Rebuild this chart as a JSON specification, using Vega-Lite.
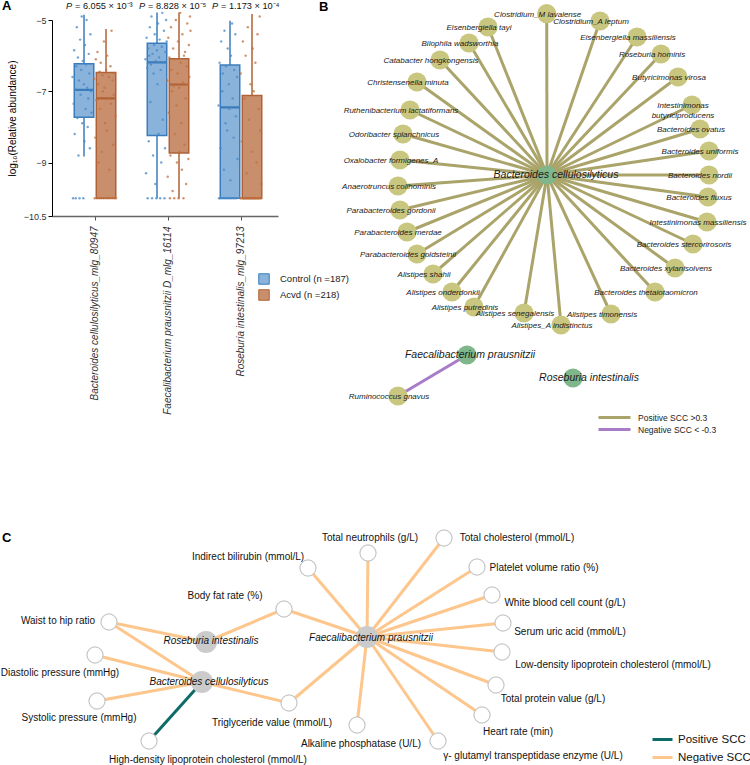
{
  "$schema": "https://vega.github.io/schema/vega-lite/v6.json",
  "padding": 0,
  "config": {
    "font": "Liberation Sans",
    "view": {"stroke": null},
    "title": {"fontSize": 13, "fontWeight": "bold", "anchor": "start", "color": "#000", "frame": "group"},
    "axis": {"labelFont": "Liberation Sans", "titleFont": "Liberation Sans"},
    "legend": {"labelFont": "Liberation Sans"}
  },
  "datasets": {
    "abox": [
      {"s": "B", "g": "Control (n =187)", "lo": -8.83, "q1": -7.73, "med": -6.96, "q3": -6.23, "hi": -4.85},
      {"s": "B", "g": "Acvd (n =218)", "lo": -10, "q1": -10, "med": -7.2, "q3": -6.47, "hi": -5.25},
      {"s": "F", "g": "Control (n =187)", "lo": -10, "q1": -8.24, "med": -6.19, "q3": -5.65, "hi": -4.79},
      {"s": "F", "g": "Acvd (n =218)", "lo": -10, "q1": -8.73, "med": -6.81, "q3": -6.09, "hi": -4.79},
      {"s": "R", "g": "Control (n =187)", "lo": -10, "q1": -10, "med": -7.45, "q3": -6.26, "hi": -5.02},
      {"s": "R", "g": "Acvd (n =218)", "lo": -10, "q1": -10, "med": -10, "q3": -7.12, "hi": -4.83}
    ],
    "ap": [
      {"s": "B", "p": "= 6.055 × 10⁻³"},
      {"s": "F", "p": "= 8.828 × 10⁻⁵"},
      {"s": "R", "p": "= 1.173 × 10⁻⁴"}
    ],
    "apts": [
      {"s":"B","g":"C","i":1,"v":-6.6},{"s":"B","g":"C","i":2,"v":-10},{"s":"B","g":"C","i":3,"v":-7.35},{"s":"B","g":"C","i":4,"v":-5.85},{"s":"B","g":"C","i":5,"v":-8.2},{"s":"B","g":"C","i":6,"v":-6.95},{"s":"B","g":"C","i":7,"v":-10},{"s":"B","g":"C","i":8,"v":-6.3},{"s":"B","g":"C","i":9,"v":-5.2},{"s":"B","g":"C","i":10,"v":-7.75},{"s":"B","g":"C","i":11,"v":-6.05},{"s":"B","g":"C","i":12,"v":-8.8},{"s":"B","g":"C","i":13,"v":-6.7},{"s":"B","g":"C","i":14,"v":-10},{"s":"B","g":"C","i":15,"v":-5.55},{"s":"B","g":"C","i":16,"v":-7.1},{"s":"B","g":"C","i":17,"v":-6.4},{"s":"B","g":"C","i":18,"v":-4.9},{"s":"B","g":"C","i":19,"v":-7.9},{"s":"B","g":"C","i":20,"v":-6.15},{"s":"B","g":"C","i":21,"v":-10},{"s":"B","g":"C","i":22,"v":-6.8},{"s":"B","g":"C","i":23,"v":-8.4},{"s":"B","g":"C","i":24,"v":-5.7},{"s":"B","g":"C","i":25,"v":-7.5},{"s":"B","g":"C","i":26,"v":-6.25},{"s":"B","g":"C","i":27,"v":-5.0},{"s":"B","g":"C","i":28,"v":-6.9},{"s":"B","g":"C","i":29,"v":-8.0},{"s":"B","g":"C","i":30,"v":-7.2},{"s":"B","g":"C","i":31,"v":-5.95},{"s":"B","g":"C","i":32,"v":-6.5},{"s":"B","g":"C","i":33,"v":-8.6},{"s":"B","g":"C","i":34,"v":-5.4},{"s":"B","g":"C","i":35,"v":-7.0},{"s":"B","g":"C","i":36,"v":-7.6},
      {"s":"B","g":"A","i":101,"v":-6.65},{"s":"B","g":"A","i":102,"v":-10},{"s":"B","g":"A","i":103,"v":-8.3},{"s":"B","g":"A","i":104,"v":-6.1},{"s":"B","g":"A","i":105,"v":-7.25},{"s":"B","g":"A","i":106,"v":-10},{"s":"B","g":"A","i":107,"v":-5.9},{"s":"B","g":"A","i":108,"v":-6.8},{"s":"B","g":"A","i":109,"v":-9.0},{"s":"B","g":"A","i":110,"v":-10},{"s":"B","g":"A","i":111,"v":-6.45},{"s":"B","g":"A","i":112,"v":-7.5},{"s":"B","g":"A","i":113,"v":-6.2},{"s":"B","g":"A","i":114,"v":-10},{"s":"B","g":"A","i":115,"v":-8.7},{"s":"B","g":"A","i":116,"v":-6.55},{"s":"B","g":"A","i":117,"v":-7.0},{"s":"B","g":"A","i":118,"v":-10},{"s":"B","g":"A","i":119,"v":-5.6},{"s":"B","g":"A","i":120,"v":-6.9},{"s":"B","g":"A","i":121,"v":-7.9},{"s":"B","g":"A","i":122,"v":-10},{"s":"B","g":"A","i":123,"v":-6.4},{"s":"B","g":"A","i":124,"v":-8.1},{"s":"B","g":"A","i":125,"v":-6.0},{"s":"B","g":"A","i":126,"v":-10},{"s":"B","g":"A","i":127,"v":-7.2},{"s":"B","g":"A","i":128,"v":-6.6},{"s":"B","g":"A","i":129,"v":-9.2},{"s":"B","g":"A","i":130,"v":-10},{"s":"B","g":"A","i":131,"v":-6.3},{"s":"B","g":"A","i":132,"v":-7.35},{"s":"B","g":"A","i":133,"v":-5.3},{"s":"B","g":"A","i":134,"v":-10},{"s":"B","g":"A","i":135,"v":-6.7},{"s":"B","g":"A","i":136,"v":-8.5},{"s":"B","g":"A","i":137,"v":-7.1},{"s":"B","g":"A","i":138,"v":-10},{"s":"B","g":"A","i":139,"v":-6.5},{"s":"B","g":"A","i":140,"v":-7.7},{"s":"B","g":"A","i":141,"v":-10},
      {"s":"F","g":"C","i":1,"v":-6.1},{"s":"F","g":"C","i":2,"v":-9.3},{"s":"F","g":"C","i":3,"v":-5.5},{"s":"F","g":"C","i":4,"v":-6.35},{"s":"F","g":"C","i":5,"v":-10},{"s":"F","g":"C","i":6,"v":-5.8},{"s":"F","g":"C","i":7,"v":-8.4},{"s":"F","g":"C","i":8,"v":-6.0},{"s":"F","g":"C","i":9,"v":-5.2},{"s":"F","g":"C","i":10,"v":-7.3},{"s":"F","g":"C","i":11,"v":-6.25},{"s":"F","g":"C","i":12,"v":-4.9},{"s":"F","g":"C","i":13,"v":-10},{"s":"F","g":"C","i":14,"v":-5.95},{"s":"F","g":"C","i":15,"v":-8.8},{"s":"F","g":"C","i":16,"v":-6.5},{"s":"F","g":"C","i":17,"v":-5.7},{"s":"F","g":"C","i":18,"v":-5.4},{"s":"F","g":"C","i":19,"v":-9.6},{"s":"F","g":"C","i":20,"v":-6.15},{"s":"F","g":"C","i":21,"v":-10},{"s":"F","g":"C","i":22,"v":-5.85},{"s":"F","g":"C","i":23,"v":-6.8},{"s":"F","g":"C","i":24,"v":-5.1},{"s":"F","g":"C","i":25,"v":-8.2},{"s":"F","g":"C","i":26,"v":-6.05},{"s":"F","g":"C","i":27,"v":-5.55},{"s":"F","g":"C","i":28,"v":-10},{"s":"F","g":"C","i":29,"v":-6.4},{"s":"F","g":"C","i":30,"v":-9.0},{"s":"F","g":"C","i":31,"v":-5.75},{"s":"F","g":"C","i":32,"v":-4.8},{"s":"F","g":"C","i":33,"v":-7.8},{"s":"F","g":"C","i":34,"v":-6.2},{"s":"F","g":"C","i":35,"v":-5.3},{"s":"F","g":"C","i":36,"v":-10},{"s":"F","g":"C","i":37,"v":-8.6},{"s":"F","g":"C","i":38,"v":-5.9},{"s":"F","g":"C","i":39,"v":-5.0},{"s":"F","g":"C","i":40,"v":-5.6},
      {"s":"F","g":"A","i":101,"v":-6.7},{"s":"F","g":"A","i":102,"v":-9.4},{"s":"F","g":"A","i":103,"v":-5.5},{"s":"F","g":"A","i":104,"v":-7.6},{"s":"F","g":"A","i":105,"v":-6.05},{"s":"F","g":"A","i":106,"v":-10},{"s":"F","g":"A","i":107,"v":-8.8},{"s":"F","g":"A","i":108,"v":-5.2},{"s":"F","g":"A","i":109,"v":-6.4},{"s":"F","g":"A","i":110,"v":-7.0},{"s":"F","g":"A","i":111,"v":-9.8},{"s":"F","g":"A","i":112,"v":-5.8},{"s":"F","g":"A","i":113,"v":-6.85},{"s":"F","g":"A","i":114,"v":-10},{"s":"F","g":"A","i":115,"v":-8.2},{"s":"F","g":"A","i":116,"v":-6.1},{"s":"F","g":"A","i":117,"v":-5.0},{"s":"F","g":"A","i":118,"v":-7.4},{"s":"F","g":"A","i":119,"v":-9.0},{"s":"F","g":"A","i":120,"v":-6.5},{"s":"F","g":"A","i":121,"v":-5.6},{"s":"F","g":"A","i":122,"v":-10},{"s":"F","g":"A","i":123,"v":-6.9},{"s":"F","g":"A","i":124,"v":-8.7},{"s":"F","g":"A","i":125,"v":-4.8},{"s":"F","g":"A","i":126,"v":-6.2},{"s":"F","g":"A","i":127,"v":-7.9},{"s":"F","g":"A","i":128,"v":-9.2},{"s":"F","g":"A","i":129,"v":-5.4},{"s":"F","g":"A","i":130,"v":-6.75},{"s":"F","g":"A","i":131,"v":-10},{"s":"F","g":"A","i":132,"v":-6.0},{"s":"F","g":"A","i":133,"v":-8.5},{"s":"F","g":"A","i":134,"v":-5.9},{"s":"F","g":"A","i":135,"v":-7.2},{"s":"F","g":"A","i":136,"v":-9.6},{"s":"F","g":"A","i":137,"v":-6.3},{"s":"F","g":"A","i":138,"v":-5.1},{"s":"F","g":"A","i":139,"v":-6.8},{"s":"F","g":"A","i":140,"v":-8.9},{"s":"F","g":"A","i":141,"v":-5.7},{"s":"F","g":"A","i":142,"v":-6.6},{"s":"F","g":"A","i":143,"v":-4.9},{"s":"F","g":"A","i":144,"v":-5.3},
      {"s":"R","g":"C","i":1,"v":-7.4},{"s":"R","g":"C","i":2,"v":-10},{"s":"R","g":"C","i":3,"v":-6.2},{"s":"R","g":"C","i":4,"v":-10},{"s":"R","g":"C","i":5,"v":-8.6},{"s":"R","g":"C","i":6,"v":-5.6},{"s":"R","g":"C","i":7,"v":-10},{"s":"R","g":"C","i":8,"v":-7.0},{"s":"R","g":"C","i":9,"v":-6.5},{"s":"R","g":"C","i":10,"v":-10},{"s":"R","g":"C","i":11,"v":-9.2},{"s":"R","g":"C","i":12,"v":-5.3},{"s":"R","g":"C","i":13,"v":-10},{"s":"R","g":"C","i":14,"v":-7.9},{"s":"R","g":"C","i":15,"v":-6.3},{"s":"R","g":"C","i":16,"v":-10},{"s":"R","g":"C","i":17,"v":-8.1},{"s":"R","g":"C","i":18,"v":-5.8},{"s":"R","g":"C","i":19,"v":-10},{"s":"R","g":"C","i":20,"v":-6.8},{"s":"R","g":"C","i":21,"v":-7.5},{"s":"R","g":"C","i":22,"v":-10},{"s":"R","g":"C","i":23,"v":-9.5},{"s":"R","g":"C","i":24,"v":-6.0},{"s":"R","g":"C","i":25,"v":-10},{"s":"R","g":"C","i":26,"v":-5.1},{"s":"R","g":"C","i":27,"v":-7.2},{"s":"R","g":"C","i":28,"v":-10},{"s":"R","g":"C","i":29,"v":-8.3},{"s":"R","g":"C","i":30,"v":-6.4},{"s":"R","g":"C","i":31,"v":-10},{"s":"R","g":"C","i":32,"v":-5.4},{"s":"R","g":"C","i":33,"v":-7.7},{"s":"R","g":"C","i":34,"v":-10},{"s":"R","g":"C","i":35,"v":-6.6},{"s":"R","g":"C","i":36,"v":-8.9},
      {"s":"R","g":"A","i":101,"v":-10},{"s":"R","g":"A","i":102,"v":-6.5},{"s":"R","g":"A","i":103,"v":-10},{"s":"R","g":"A","i":104,"v":-8.4},{"s":"R","g":"A","i":105,"v":-10},{"s":"R","g":"A","i":106,"v":-5.6},{"s":"R","g":"A","i":107,"v":-10},{"s":"R","g":"A","i":108,"v":-10},{"s":"R","g":"A","i":109,"v":-7.2},{"s":"R","g":"A","i":110,"v":-10},{"s":"R","g":"A","i":111,"v":-6.0},{"s":"R","g":"A","i":112,"v":-10},{"s":"R","g":"A","i":113,"v":-9.3},{"s":"R","g":"A","i":114,"v":-10},{"s":"R","g":"A","i":115,"v":-5.2},{"s":"R","g":"A","i":116,"v":-10},{"s":"R","g":"A","i":117,"v":-7.8},{"s":"R","g":"A","i":118,"v":-10},{"s":"R","g":"A","i":119,"v":-10},{"s":"R","g":"A","i":120,"v":-6.8},{"s":"R","g":"A","i":121,"v":-10},{"s":"R","g":"A","i":122,"v":-8.7},{"s":"R","g":"A","i":123,"v":-10},{"s":"R","g":"A","i":124,"v":-5.8},{"s":"R","g":"A","i":125,"v":-10},{"s":"R","g":"A","i":126,"v":-7.0},{"s":"R","g":"A","i":127,"v":-10},{"s":"R","g":"A","i":128,"v":-10},{"s":"R","g":"A","i":129,"v":-6.2},{"s":"R","g":"A","i":130,"v":-10},{"s":"R","g":"A","i":131,"v":-9.0},{"s":"R","g":"A","i":132,"v":-10},{"s":"R","g":"A","i":133,"v":-5.4},{"s":"R","g":"A","i":134,"v":-10},{"s":"R","g":"A","i":135,"v":-7.5},{"s":"R","g":"A","i":136,"v":-10},{"s":"R","g":"A","i":137,"v":-4.9},{"s":"R","g":"A","i":138,"v":-8.1},{"s":"R","g":"A","i":139,"v":-10},{"s":"R","g":"A","i":140,"v":-9.6}
    ],
    "bnodes": [
      {"n": "Bacteroides cellulosilyticus", "x": 547, "y": 178, "t": "hub", "lx": 556, "ly": 178},
      {"n": "Faecalibacterium prausnitzii", "x": 467, "y": 358, "t": "hub", "lx": 470, "ly": 358},
      {"n": "Roseburia intestinalis", "x": 573, "y": 381, "t": "hub", "lx": 589, "ly": 381},
      {"n": "Clostridium_M lavalense", "x": 546.7, "y": 16.7, "t": "leaf"},
      {"n": "Clostridium_A leptum", "x": 600, "y": 24, "t": "leaf"},
      {"n": "Eisenbergiella tayi", "x": 488, "y": 30, "t": "leaf"},
      {"n": "Eisenbergiella massiliensis", "x": 637, "y": 40, "t": "leaf"},
      {"n": "Bilophila wadsworthia", "x": 469, "y": 46, "t": "leaf"},
      {"n": "Roseburia hominis", "x": 661, "y": 57, "t": "leaf"},
      {"n": "Catabacter hongkongensis", "x": 440, "y": 63, "t": "leaf"},
      {"n": "Butyricimonas virosa", "x": 678, "y": 80, "t": "leaf"},
      {"n": "Christensenella minuta", "x": 417, "y": 85, "t": "leaf"},
      {"n": "Intestinimonas\nbutyriciproducens", "x": 692, "y": 108, "t": "leaf"},
      {"n": "Ruthenibacterium lactatiformans", "x": 410, "y": 113, "t": "leaf"},
      {"n": "Bacteroides ovatus", "x": 700, "y": 132, "t": "leaf"},
      {"n": "Odoribacter splanchnicus", "x": 403, "y": 137, "t": "leaf"},
      {"n": "Bacteroides uniformis", "x": 709, "y": 154, "t": "leaf"},
      {"n": "Oxalobacter formigenes_A", "x": 400, "y": 163, "t": "leaf"},
      {"n": "Bacteroides nordii", "x": 709, "y": 178, "t": "leaf"},
      {"n": "Anaerotruncus colihominis", "x": 398, "y": 189, "t": "leaf"},
      {"n": "Bacteroides fluxus", "x": 708, "y": 200, "t": "leaf"},
      {"n": "Parabacteroides gordonii", "x": 400, "y": 213, "t": "leaf"},
      {"n": "Intestinimonas massiliensis", "x": 707, "y": 225, "t": "leaf"},
      {"n": "Parabacteroides merdae", "x": 407, "y": 235, "t": "leaf"},
      {"n": "Bacteroides stercorirosoris", "x": 693, "y": 247, "t": "leaf"},
      {"n": "Parabacteroides goldsteinii", "x": 417, "y": 257, "t": "leaf"},
      {"n": "Bacteroides xylanisolvens", "x": 675, "y": 271, "t": "leaf"},
      {"n": "Alistipes shahii", "x": 433, "y": 277, "t": "leaf"},
      {"n": "Alistipes onderdonkii", "x": 452, "y": 295, "t": "leaf"},
      {"n": "Bacteroides thetaiotaomicron", "x": 655, "y": 295, "t": "leaf"},
      {"n": "Alistipes putredinis", "x": 474, "y": 310, "t": "leaf"},
      {"n": "Alistipes senegalensis", "x": 524, "y": 316, "t": "leaf"},
      {"n": "Alistipes timonensis", "x": 611, "y": 317, "t": "leaf"},
      {"n": "Alistipes_A indistinctus", "x": 561, "y": 328, "t": "leaf"},
      {"n": "Ruminococcus gnavus", "x": 398, "y": 399, "t": "leaf"}
    ],
    "bedges": [
      {"s": "Bacteroides cellulosilyticus", "t": "Clostridium_M lavalense", "sign": "Positive SCC >0.3"},
      {"s": "Bacteroides cellulosilyticus", "t": "Clostridium_A leptum", "sign": "Positive SCC >0.3"},
      {"s": "Bacteroides cellulosilyticus", "t": "Eisenbergiella tayi", "sign": "Positive SCC >0.3"},
      {"s": "Bacteroides cellulosilyticus", "t": "Eisenbergiella massiliensis", "sign": "Positive SCC >0.3"},
      {"s": "Bacteroides cellulosilyticus", "t": "Bilophila wadsworthia", "sign": "Positive SCC >0.3"},
      {"s": "Bacteroides cellulosilyticus", "t": "Roseburia hominis", "sign": "Positive SCC >0.3"},
      {"s": "Bacteroides cellulosilyticus", "t": "Catabacter hongkongensis", "sign": "Positive SCC >0.3"},
      {"s": "Bacteroides cellulosilyticus", "t": "Butyricimonas virosa", "sign": "Positive SCC >0.3"},
      {"s": "Bacteroides cellulosilyticus", "t": "Christensenella minuta", "sign": "Positive SCC >0.3"},
      {"s": "Bacteroides cellulosilyticus", "t": "Intestinimonas\nbutyriciproducens", "sign": "Positive SCC >0.3"},
      {"s": "Bacteroides cellulosilyticus", "t": "Ruthenibacterium lactatiformans", "sign": "Positive SCC >0.3"},
      {"s": "Bacteroides cellulosilyticus", "t": "Bacteroides ovatus", "sign": "Positive SCC >0.3"},
      {"s": "Bacteroides cellulosilyticus", "t": "Odoribacter splanchnicus", "sign": "Positive SCC >0.3"},
      {"s": "Bacteroides cellulosilyticus", "t": "Bacteroides uniformis", "sign": "Positive SCC >0.3"},
      {"s": "Bacteroides cellulosilyticus", "t": "Oxalobacter formigenes_A", "sign": "Positive SCC >0.3"},
      {"s": "Bacteroides cellulosilyticus", "t": "Bacteroides nordii", "sign": "Positive SCC >0.3"},
      {"s": "Bacteroides cellulosilyticus", "t": "Anaerotruncus colihominis", "sign": "Positive SCC >0.3"},
      {"s": "Bacteroides cellulosilyticus", "t": "Bacteroides fluxus", "sign": "Positive SCC >0.3"},
      {"s": "Bacteroides cellulosilyticus", "t": "Parabacteroides gordonii", "sign": "Positive SCC >0.3"},
      {"s": "Bacteroides cellulosilyticus", "t": "Intestinimonas massiliensis", "sign": "Positive SCC >0.3"},
      {"s": "Bacteroides cellulosilyticus", "t": "Parabacteroides merdae", "sign": "Positive SCC >0.3"},
      {"s": "Bacteroides cellulosilyticus", "t": "Bacteroides stercorirosoris", "sign": "Positive SCC >0.3"},
      {"s": "Bacteroides cellulosilyticus", "t": "Parabacteroides goldsteinii", "sign": "Positive SCC >0.3"},
      {"s": "Bacteroides cellulosilyticus", "t": "Bacteroides xylanisolvens", "sign": "Positive SCC >0.3"},
      {"s": "Bacteroides cellulosilyticus", "t": "Alistipes shahii", "sign": "Positive SCC >0.3"},
      {"s": "Bacteroides cellulosilyticus", "t": "Alistipes onderdonkii", "sign": "Positive SCC >0.3"},
      {"s": "Bacteroides cellulosilyticus", "t": "Bacteroides thetaiotaomicron", "sign": "Positive SCC >0.3"},
      {"s": "Bacteroides cellulosilyticus", "t": "Alistipes putredinis", "sign": "Positive SCC >0.3"},
      {"s": "Bacteroides cellulosilyticus", "t": "Alistipes senegalensis", "sign": "Positive SCC >0.3"},
      {"s": "Bacteroides cellulosilyticus", "t": "Alistipes timonensis", "sign": "Positive SCC >0.3"},
      {"s": "Bacteroides cellulosilyticus", "t": "Alistipes_A indistinctus", "sign": "Positive SCC >0.3"},
      {"s": "Faecalibacterium prausnitzii", "t": "Ruminococcus gnavus", "sign": "Negative SCC < -0.3"}
    ],
    "cnodes": [
      {"n": "Roseburia intestinalis", "x": 206, "y": 642, "t": "hub", "lx": 211, "ly": 641},
      {"n": "Bacteroides cellulosilyticus", "x": 202, "y": 682, "t": "hub", "lx": 209, "ly": 682},
      {"n": "Faecalibacterium prausnitzii", "x": 367, "y": 637, "t": "hub", "lx": 371, "ly": 638},
      {"n": "Indirect bilirubin (mmol/L)", "x": 308, "y": 568, "t": "var", "lx": 248, "ly": 557},
      {"n": "Total neutrophils (g/L)", "x": 368, "y": 553, "t": "var", "lx": 370, "ly": 538},
      {"n": "Total cholesterol (mmol/L)", "x": 444, "y": 538, "t": "var", "lx": 517, "ly": 538},
      {"n": "Platelet volume ratio (%)", "x": 477, "y": 567, "t": "var", "lx": 544, "ly": 568},
      {"n": "White blood cell count (g/L)", "x": 492, "y": 595, "t": "var", "lx": 565, "ly": 603},
      {"n": "Serum uric acid (mmol/L)", "x": 503, "y": 623, "t": "var", "lx": 570, "ly": 632},
      {"n": "Low-density lipoprotein cholesterol (mmol/L)", "x": 502, "y": 652, "t": "var", "lx": 613, "ly": 665},
      {"n": "Total protein value (g/L)", "x": 496, "y": 685, "t": "var", "lx": 553, "ly": 699},
      {"n": "Heart rate (min)", "x": 482, "y": 715, "t": "var", "lx": 518, "ly": 732},
      {"n": "γ- glutamyl transpeptidase enzyme (U/L)", "x": 438, "y": 741, "t": "var", "lx": 533, "ly": 756},
      {"n": "Alkaline phosphatase (U/L)", "x": 357, "y": 725, "t": "var", "lx": 361, "ly": 744},
      {"n": "Triglyceride value (mmol/L)", "x": 289, "y": 703, "t": "var", "lx": 272, "ly": 723},
      {"n": "High-density lipoprotein cholesterol (mmol/L)", "x": 149, "y": 741, "t": "var", "lx": 208, "ly": 760},
      {"n": "Systolic pressure (mmHg)", "x": 97, "y": 701, "t": "var", "lx": 79, "ly": 718},
      {"n": "Diastolic pressure (mmHg)", "x": 95, "y": 655, "t": "var", "lx": 60, "ly": 673},
      {"n": "Waist to hip ratio", "x": 109, "y": 622, "t": "var", "lx": 58, "ly": 621},
      {"n": "Body fat rate (%)", "x": 284, "y": 609, "t": "var", "lx": 225, "ly": 596}
    ],
    "cedges": [
      {"s": "Roseburia intestinalis", "t": "Waist to hip ratio", "sign": "Negative SCC"},
      {"s": "Roseburia intestinalis", "t": "Body fat rate (%)", "sign": "Negative SCC"},
      {"s": "Bacteroides cellulosilyticus", "t": "Waist to hip ratio", "sign": "Negative SCC"},
      {"s": "Bacteroides cellulosilyticus", "t": "Diastolic pressure (mmHg)", "sign": "Negative SCC"},
      {"s": "Bacteroides cellulosilyticus", "t": "Systolic pressure (mmHg)", "sign": "Negative SCC"},
      {"s": "Bacteroides cellulosilyticus", "t": "Triglyceride value (mmol/L)", "sign": "Negative SCC"},
      {"s": "Bacteroides cellulosilyticus", "t": "High-density lipoprotein cholesterol (mmol/L)", "sign": "Positive SCC"},
      {"s": "Faecalibacterium prausnitzii", "t": "Indirect bilirubin (mmol/L)", "sign": "Negative SCC"},
      {"s": "Faecalibacterium prausnitzii", "t": "Total neutrophils (g/L)", "sign": "Negative SCC"},
      {"s": "Faecalibacterium prausnitzii", "t": "Total cholesterol (mmol/L)", "sign": "Negative SCC"},
      {"s": "Faecalibacterium prausnitzii", "t": "Platelet volume ratio (%)", "sign": "Negative SCC"},
      {"s": "Faecalibacterium prausnitzii", "t": "White blood cell count (g/L)", "sign": "Negative SCC"},
      {"s": "Faecalibacterium prausnitzii", "t": "Serum uric acid (mmol/L)", "sign": "Negative SCC"},
      {"s": "Faecalibacterium prausnitzii", "t": "Low-density lipoprotein cholesterol (mmol/L)", "sign": "Negative SCC"},
      {"s": "Faecalibacterium prausnitzii", "t": "Total protein value (g/L)", "sign": "Negative SCC"},
      {"s": "Faecalibacterium prausnitzii", "t": "Heart rate (min)", "sign": "Negative SCC"},
      {"s": "Faecalibacterium prausnitzii", "t": "γ- glutamyl transpeptidase enzyme (U/L)", "sign": "Negative SCC"},
      {"s": "Faecalibacterium prausnitzii", "t": "Alkaline phosphatase (U/L)", "sign": "Negative SCC"},
      {"s": "Faecalibacterium prausnitzii", "t": "Triglyceride value (mmol/L)", "sign": "Negative SCC"},
      {"s": "Faecalibacterium prausnitzii", "t": "Body fat rate (%)", "sign": "Negative SCC"}
    ]
  },
  "vconcat": [
    {
      "hconcat": [
        {
          "width": 226,
          "height": 196,
          "title": {"text": "A", "dx": -50, "offset": -11},
          "encoding": {
            "x": {
              "field": "s", "type": "nominal", "title": null,
              "scale": {"domain": ["B", "F", "R"], "paddingInner": 0, "paddingOuter": 0.048, "align": 0.93},
              "axis": {
                "labelExpr": "datum.value == 'B' ? 'Bacteroides cellulosilyticus_mlg_80947' : datum.value == 'F' ? 'Faecalibacterium prausnitzii D_mlg_16114' : 'Roseburia intestinalis_mlg_97213'",
                "labelAngle": 270, "labelFontStyle": "italic", "labelFontSize": 10, "labelColor": "#333",
                "labelLimit": 400, "labelPadding": 6, "tickSize": 4, "tickColor": "#555",
                "domainColor": "#666", "domainWidth": 1.5
              }
            }
          },
          "layer": [
            {
              "data": {"name": "abox"},
              "mark": {"type": "rule", "strokeWidth": 1.5},
              "encoding": {
                "y": {
                  "field": "lo", "type": "quantitative", "title": "log₁₀(Relative abundance)",
                  "scale": {"domain": [-10.5, -5], "nice": false, "zero": false},
                  "axis": {"values": [-5, -6, -7, -8, -9, -10, -10.5], "format": ".1~f", "labelOverlap": false, "grid": false, "labelFontSize": 9, "labelColor": "#333", "tickSize": 4, "tickColor": "#000", "domainColor": "#000", "titleFontSize": 10, "titleFontWeight": "normal", "titleColor": "#000", "titlePadding": 6}
                },
                "y2": {"field": "hi"},
                "xOffset": {"field": "g", "type": "nominal", "scale": {"domain": ["Control (n =187)", "Acvd (n =218)"], "paddingInner": 0.114, "paddingOuter": 0.716}},
                "stroke": {"field": "g", "type": "nominal", "scale": {"domain": ["Control (n =187)", "Acvd (n =218)"], "range": ["#3b7cbc", "#b06236"]},
                  "legend": {"orient": "none", "legendX": 206, "legendY": 253, "title": null, "symbolType": "square", "symbolSize": 110, "symbolStrokeWidth": 1, "labelFontSize": 9.5, "labelColor": "#222", "labelOffset": 10, "rowPadding": 0}}
              }
            },
            {
              "data": {"name": "abox"},
              "mark": {"type": "bar", "strokeWidth": 1.5},
              "encoding": {
                "y": {"field": "q1", "type": "quantitative"},
                "y2": {"field": "q3"},
                "xOffset": {"field": "g", "type": "nominal", "scale": {"domain": ["Control (n =187)", "Acvd (n =218)"], "paddingInner": 0.114, "paddingOuter": 0.716}},
                "fill": {"field": "g", "type": "nominal", "scale": {"domain": ["Control (n =187)", "Acvd (n =218)"], "range": ["#89b3db", "#c98f6d"]},
                  "legend": {"orient": "none", "legendX": 206, "legendY": 253, "title": null, "symbolType": "square", "symbolSize": 110, "symbolStrokeWidth": 1, "labelFontSize": 9.5, "labelColor": "#222", "labelOffset": 10, "rowPadding": 0}},
                "stroke": {"field": "g", "type": "nominal"}
              }
            },
            {
              "data": {"name": "abox"},
              "mark": {"type": "bar", "strokeWidth": 2.2, "fillOpacity": 0},
              "encoding": {
                "y": {"field": "med", "type": "quantitative"},
                "y2": {"field": "med"},
                "xOffset": {"field": "g", "type": "nominal", "scale": {"domain": ["Control (n =187)", "Acvd (n =218)"], "paddingInner": 0.114, "paddingOuter": 0.716}},
                "stroke": {"field": "g", "type": "nominal"}
              }
            },
            {
              "data": {"name": "apts"},
              "mark": {"type": "circle", "size": 6, "opacity": 0.75},
              "encoding": {
                "y": {"field": "v", "type": "quantitative"},
                "xOffset": {"field": "i", "type": "ordinal", "scale": {"paddingInner": 0, "paddingOuter": 0, "range": [14, 59]}},
                "color": {"field": "g", "type": "nominal", "scale": {"domain": ["C", "A"], "range": ["#4a88c7", "#c0703f"]}, "legend": null}
              }
            },
            {
              "data": {"name": "ap"},
              "mark": {"type": "text", "fontSize": 9.2, "fontStyle": "italic", "color": "#111", "baseline": "middle", "align": "left", "dx": -29},
              "encoding": {
                "y": {"datum": -4.62},
                "text": {"value": "P"}
              }
            },
            {
              "data": {"name": "ap"},
              "mark": {"type": "text", "fontSize": 9.2, "color": "#111", "baseline": "middle", "align": "left", "dx": -20},
              "encoding": {
                "y": {"datum": -4.62},
                "text": {"field": "p"}
              }
            }
          ],
          "resolve": {"scale": {"xOffset": "independent"}}
        },
        {
          "width": 460,
          "height": 417,
          "title": {"text": "B", "dx": 29, "offset": -10},
          "layer": [
            {
              "data": {"name": "bedges"},
              "transform": [
                {"lookup": "s", "from": {"data": {"name": "bnodes"}, "key": "n", "fields": ["x", "y"]}, "as": ["sx", "sy"]},
                {"lookup": "t", "from": {"data": {"name": "bnodes"}, "key": "n", "fields": ["x", "y"]}, "as": ["tx", "ty"]}
              ],
              "mark": {"type": "rule", "strokeWidth": 3},
              "encoding": {
                "x": {"field": "sx", "type": "quantitative", "scale": {"domain": [290, 750], "nice": false, "zero": false}, "axis": null},
                "y": {"field": "sy", "type": "quantitative", "scale": {"domain": [23, 440], "nice": false, "zero": false, "reverse": true}, "axis": null},
                "x2": {"field": "tx"},
                "y2": {"field": "ty"},
                "stroke": {"field": "sign", "type": "nominal", "scale": {"domain": ["Positive SCC >0.3", "Negative SCC < -0.3"], "range": ["#aaa46a", "#a87cc8"]},
                  "legend": {"orient": "none", "legendX": 319, "legendY": 392, "title": null, "symbolType": "M-4,0H4", "symbolSize": 64, "symbolStrokeWidth": 3, "labelFontSize": 8.5, "labelColor": "#222", "labelOffset": 18, "rowPadding": -2}}
              }
            },
            {
              "data": {"name": "bnodes"},
              "mark": {"type": "circle", "size": 370, "opacity": 1},
              "encoding": {
                "x": {"field": "x", "type": "quantitative"},
                "y": {"field": "y", "type": "quantitative"},
                "color": {"field": "t", "type": "nominal", "scale": {"domain": ["leaf", "hub"], "range": ["#c9c67f", "#80b78a"]}, "legend": null}
              }
            },
            {
              "data": {"name": "bnodes"},
              "transform": [{"filter": "datum.t == 'leaf'"}],
              "mark": {"type": "text", "fontSize": 8, "fontStyle": "italic", "dx": -9, "dy": 1, "lineBreak": "\n", "color": "#1a1a1a"},
              "encoding": {
                "x": {"field": "x", "type": "quantitative"},
                "y": {"field": "y", "type": "quantitative"},
                "text": {"field": "n"}
              }
            },
            {
              "data": {"name": "bnodes"},
              "transform": [{"filter": "datum.t == 'hub'"}],
              "mark": {"type": "text", "fontSize": 10.5, "fontStyle": "italic", "color": "#1a1a1a"},
              "encoding": {
                "x": {"field": "lx", "type": "quantitative"},
                "y": {"field": "ly", "type": "quantitative"},
                "text": {"field": "n"}
              }
            }
          ]
        }
      ],
      "spacing": 12,
      "bounds": "flush",
      "resolve": {"scale": {"x": "independent", "y": "independent", "color": "independent", "fill": "independent", "stroke": "independent"}, "legend": {"color": "independent", "fill": "independent", "stroke": "independent"}}
    },
    {
      "width": 698,
      "height": 220,
      "title": {"text": "C", "dx": -50, "offset": -17},
      "layer": [
        {
          "data": {"name": "cedges"},
          "transform": [
            {"lookup": "s", "from": {"data": {"name": "cnodes"}, "key": "n", "fields": ["x", "y"]}, "as": ["sx", "sy"]},
            {"lookup": "t", "from": {"data": {"name": "cnodes"}, "key": "n", "fields": ["x", "y"]}, "as": ["tx", "ty"]}
          ],
          "mark": {"type": "rule", "strokeWidth": 3},
          "encoding": {
            "x": {"field": "sx", "type": "quantitative", "scale": {"domain": [52, 750], "nice": false, "zero": false}, "axis": null},
            "y": {"field": "sy", "type": "quantitative", "scale": {"domain": [545, 765], "nice": false, "zero": false, "reverse": true}, "axis": null},
            "x2": {"field": "tx"},
            "y2": {"field": "ty"},
            "stroke": {"field": "sign", "type": "nominal", "scale": {"domain": ["Positive SCC", "Negative SCC"], "range": ["#0d6b69", "#fdc68c"]},
              "legend": {"orient": "none", "legendX": 604, "legendY": 188, "title": null, "symbolType": "M-2,0H2", "symbolSize": 100, "symbolStrokeWidth": 3, "labelFontSize": 11.5, "labelColor": "#111", "labelOffset": 9, "rowPadding": 5}}
          }
        },
        {
          "data": {"name": "cnodes"},
          "transform": [{"filter": "datum.t == 'var'"}],
          "mark": {"type": "circle", "size": 260, "opacity": 1, "fill": "#ffffff", "stroke": "#c6c6c6", "strokeWidth": 1.2},
          "encoding": {
            "x": {"field": "x", "type": "quantitative"},
            "y": {"field": "y", "type": "quantitative"}
          }
        },
        {
          "data": {"name": "cnodes"},
          "transform": [{"filter": "datum.t == 'hub'"}],
          "mark": {"type": "circle", "size": 490, "opacity": 1, "fill": "#cbcbcb"},
          "encoding": {
            "x": {"field": "x", "type": "quantitative"},
            "y": {"field": "y", "type": "quantitative"}
          }
        },
        {
          "data": {"name": "cnodes"},
          "transform": [{"filter": "datum.t == 'var'"}],
          "mark": {"type": "text", "fontSize": 10, "color": "#111"},
          "encoding": {
            "x": {"field": "lx", "type": "quantitative"},
            "y": {"field": "ly", "type": "quantitative"},
            "text": {"field": "n"}
          }
        },
        {
          "data": {"name": "cnodes"},
          "transform": [{"filter": "datum.t == 'hub'"}],
          "mark": {"type": "text", "fontSize": 10, "fontStyle": "italic", "color": "#111"},
          "encoding": {
            "x": {"field": "lx", "type": "quantitative"},
            "y": {"field": "ly", "type": "quantitative"},
            "text": {"field": "n"}
          }
        }
      ]
    }
  ],
  "spacing": 90,
  "resolve": {"scale": {"x": "independent", "y": "independent", "color": "independent", "fill": "independent", "stroke": "independent"}, "legend": {"color": "independent", "fill": "independent", "stroke": "independent"}}
}
